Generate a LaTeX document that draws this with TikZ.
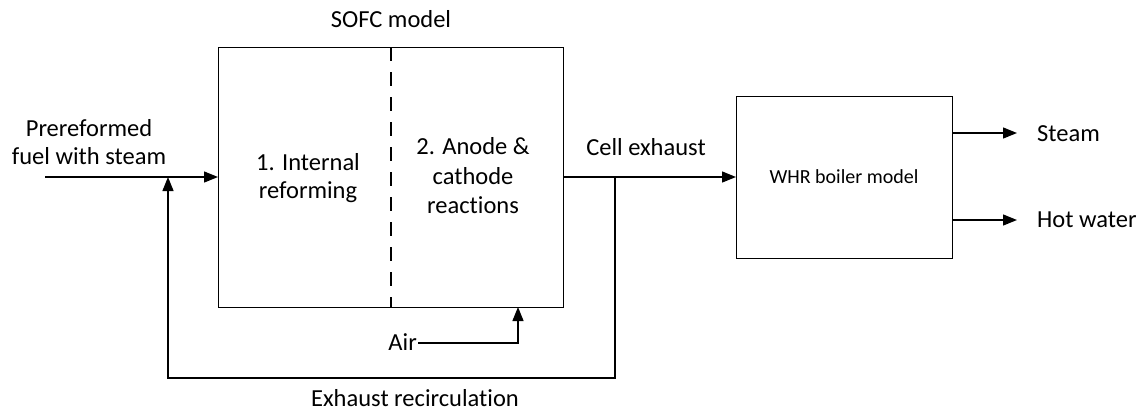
\documentclass[tikz,border=0pt]{standalone}
\usepackage{fontspec}
\setmainfont{Carlito}[Ligatures={NoCommon}]
\usetikzlibrary{arrows.meta,positioning}
\begin{document}
\begin{tikzpicture}[x=1pt,y=-1pt,
  box/.style={draw,line width=1.3pt,inner sep=0pt,anchor=north west},
  lbl/.style={font=\fontsize{24.5}{29}\selectfont,align=center,inner sep=0pt,anchor=base},
  lbll/.style={font=\fontsize{24.5}{29}\selectfont,inner sep=0pt,anchor=base west},
  flow/.style={line width=1.3pt,-{Triangle[length=14pt,width=11pt]}},
  plain/.style={line width=1.3pt}]
\useasboundingbox (0,0) rectangle (1145,410);
% boxes
\node[box,minimum width=345pt,minimum height=260pt] (sofc) at (218,47) {};
\node[box,minimum width=216pt,minimum height=162pt] (whr) at (736,96) {};
\coordinate (dtop) at (391,47);
\coordinate (dbot) at (391,307);
\draw[line width=1.3pt,dash pattern=on 14pt off 11pt] (dtop) -- (dbot);
% labels
\node[lbl] (sofclbl) at (391,27) {SOFC model};
\node[lbl] (fuel1) at (89,136) {Prereformed};
\node[lbl] (fuel2) at (89,164) {fuel with steam};
\node[lbl] (ref1) at (308,170) {1. Internal};
\node[lbl] (ref2) at (308,198) {reforming};
\node[lbl] (an1) at (473,154) {2. Anode \&};
\node[lbl] (an2) at (473,184) {cathode};
\node[lbl] (an3) at (473,213) {reactions};
\node[lbl] (cell) at (646,155) {Cell exhaust};
\node[lbl,font=\fontsize{20}{24}\selectfont] (whrlbl) at (844,183) {WHR boiler model};
\node[lbll] (steam) at (1037,141) {Steam};
\node[lbll] (hot) at (1037,227) {Hot water};
\node[lbl,anchor=base east] (air) at (417,350) {Air};
\node[lbl] (recirc) at (415,406) {Exhaust recirculation};
% coordinates
\coordinate (fin) at (45,177);
\coordinate (sin) at (218,177);
\coordinate (mix) at (168,177);
\coordinate (rbl) at (168,378);
\coordinate (rbr) at (615,378);
\coordinate (sout) at (563,177);
\coordinate (split) at (615,177);
\coordinate (win) at (736,177);
\coordinate (airs) at (418,343);
\coordinate (airc) at (518,343);
\coordinate (aire) at (518,307);
\coordinate (s1) at (952,133);
\coordinate (s2) at (1017,133);
\coordinate (h1) at (952,220);
\coordinate (h2) at (1017,220);
% connectors
\draw[flow] (fin) -- (sin);
\draw[flow] (split) -- (rbr) -- (rbl) -- (mix);
\draw[flow] (sout) -- (win);
\draw[flow] (airs) -- (airc) -- (aire);
\draw[flow] (s1) -- (s2);
\draw[flow] (h1) -- (h2);
\end{tikzpicture}
\end{document}
